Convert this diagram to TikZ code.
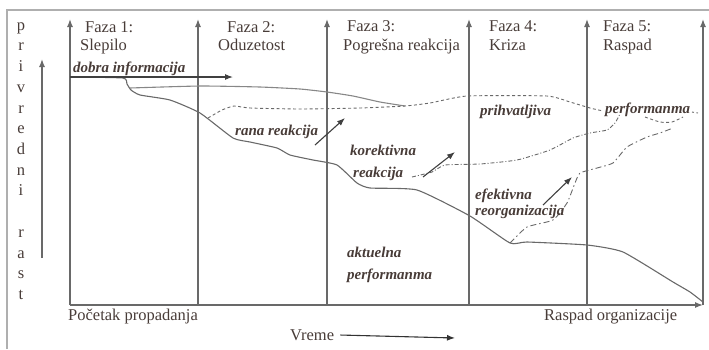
\documentclass[tikz,border=0pt]{standalone}
\usepackage{fontspec}
\setmainfont{Liberation Serif}
\usetikzlibrary{positioning,arrows.meta}
\definecolor{txt}{RGB}{72,60,56}
\definecolor{ln}{RGB}{105,105,105}
\definecolor{frm}{RGB}{175,175,175}
\tikzset{basic/.style={text=txt,inner sep=0pt,font=\fontsize{16.5}{18}\selectfont}}
\tikzset{phase/.style={basic,anchor=mid west}}
\tikzset{note/.style={basic,anchor=mid west,font=\fontsize{15}{16}\selectfont\bfseries\itshape}}
\tikzset{axis/.style={draw=ln,line width=1.3pt,-{Latex[length=8pt,width=6pt]}}}
\tikzset{curve/.style={draw=ln,line width=1.1pt,line join=round}}
\tikzset{pointer/.style={draw=black!75,line width=1.1pt,-{Latex[length=8pt,width=6pt]}}}

\begin{document}
\begin{tikzpicture}[x=1pt,y=-1pt]
    \useasboundingbox (0,0) rectangle (709,349);
    % frame
    \draw[frm,line width=1.6pt] (7,349) -- (7,10) -- (709,10);
    % phase lines and time axis
    \foreach \x [count=\i] in {70,198,327,469,587,703} {
        \coordinate (b\i) at (\x,305);
        \coordinate (t\i) at (\x,19);
        \draw[axis] (b\i) -- (t\i);
    }
    \draw[axis] (b1) -- (b6);
    % growth axis
    \foreach \l [count=\i] in {p,r,i,v,r,e,d,n,i,{},r,a,s,t}
        \node[basic,anchor=mid] (y\i) at (21,{28+(\i-1)*20.7}) {\l};
    \coordinate (ybot) at (42,258);
    \coordinate (ytop) at (42,59);
    \draw[axis] (ybot) -- (ytop);
    % phases
    \node[phase] (f1) at (85,30) {Faza 1:};
    \node[phase] (f1n) at (80,48) {Slepilo};
    \node[phase] (f2) at (227,30) {Faza 2:};
    \node[phase] (f2n) at (218,48) {Oduzetost};
    \node[phase] (f3) at (347,29) {Faza 3:};
    \node[phase] (f3n) at (343,48) {Pogrešna reakcija};
    \node[phase] (f4) at (489,29) {Faza 4:};
    \node[phase] (f4n) at (489,48) {Kriza};
    \node[phase] (f5) at (603,29) {Faza 5:};
    \node[phase] (f5n) at (603,48) {Raspad};
    \node[phase] (start) at (68,318) {Početak propadanja};
    \node[phase] (end) at (544,318) {Raspad organizacije};
    \node[phase] (vreme) at (290,338) {Vreme};
    \coordinate (vremeEnd) at (455,338);
    \draw[pointer,draw=black!80] ([xshift=6pt]vreme.east) -- (vremeEnd);
    % performance curves
    \draw[curve] plot[smooth,tension=0.3] coordinates {(70,77) (123,78) (127,84) (131,90) (140,95) (170,100) (200,113) (233,138) (250,142) (277,148) (290,155) (313,160) (337,165) (357,183) (370,188) (417,190) (470,216) (510,243) (527,242) (587,245) (623,252) (673,282) (690,292) (703,302)};
    \draw[curve,draw=ln!80] plot[smooth,tension=0.3] coordinates {(130,88) (200,86) (260,87) (300,89) (327,92) (353,96) (380,102) (405,106)};
    \draw[curve,line width=0.9pt,dash pattern=on 3pt off 2.5pt] plot[smooth,tension=0.3] coordinates {(208,118) (222,110) (234,106) (250,108) (300,109) (360,108) (405,106) (430,103) (467,96) (547,96) (570,102) (590,108) (603,111)};
    \draw[curve,line width=0.9pt,dash pattern=on 3pt off 2.5pt] plot[smooth,tension=0.4] coordinates {(645,117) (660,122) (672,122) (683,117)};
    \draw[curve,line width=0.9pt,dash pattern=on 2pt off 2.5pt] (692,112) -- (698,113);
    \draw[curve,line width=0.9pt,dash pattern=on 4pt off 2pt on 1pt off 2pt] plot[smooth,tension=0.3] coordinates {(412,177) (432,172) (445,165) (480,164) (517,160) (550,150) (573,138) (590,133) (607,130) (615,123) (620,114)};
    \draw[curve,line width=0.9pt,dash pattern=on 6pt off 3pt on 1.5pt off 3pt] plot[smooth,tension=0.3] coordinates {(510,243) (527,227) (553,220) (567,203) (575,183) (580,173) (597,168) (613,163) (627,147) (647,137) (660,133) (673,128)};
    % labels
    \node[note] (dobra) at (73,70) {dobra informacija};
    \node[note] (rana) at (235,133) {rana reakcija};
    \node[note] (korek) at (350,153) {korektivna};
    \node[note] (korekR) at (353,175) {reakcija};
    \node[note] (prihv) at (480,113) {prihvatljiva};
    \node[note] (perf) at (605,111) {performanma};
    \node[note] (efek) at (475,197) {efektivna};
    \node[note] (reorg) at (475,213) {reorganizacija};
    \node[note] (aktu) at (347,255) {aktuelna};
    \node[note] (perfA) at (347,277) {performanma};
    % reaction arrows
    \coordinate (dobraA) at (70,77);
    \coordinate (dobraB) at (233,77);
    \draw[pointer] (dobraA) -- (dobraB);
    \coordinate (ranaA) at (315,145);
    \coordinate (ranaB) at (345,118);
    \draw[pointer] (ranaA) -- (ranaB);
    \coordinate (korekA) at (423,177);
    \coordinate (korekB) at (455,152);
    \draw[pointer] (korekA) -- (korekB);
    \coordinate (efekA) at (543,205);
    \coordinate (efekB) at (572,177);
    \draw[pointer] (efekA) -- (efekB);
\end{tikzpicture}
\end{document}
